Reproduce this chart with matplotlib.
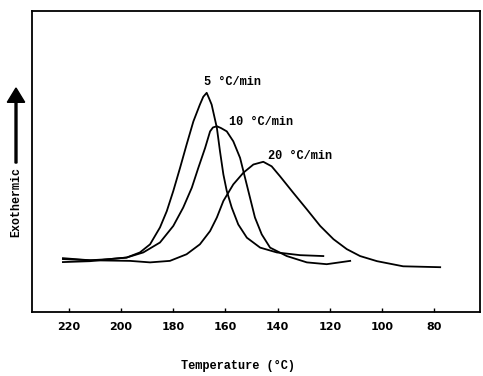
import matplotlib
matplotlib.use("Agg")
import matplotlib.pyplot as plt

# DSC exotherms at three cooling rates (temperature in degC, signal in arbitrary units)
temp_5 = [222.3, 211.9, 204.3, 197.9, 192.8, 188.9, 185.1, 182.5, 180.0, 177.4,
          174.9, 172.3, 169.8, 168.5, 167.2, 166.3, 165.3, 163.3, 162.1, 160.8,
          159.5, 157.6, 155.1, 151.8, 146.7, 140.3, 131.4, 122.5]
sig_5 = [16.6, 16.9, 17.6, 18.1, 19.8, 22.5, 28.1, 33.5, 40.2, 47.9,
         55.6, 63.3, 68.9, 71.5, 72.8, 71.0, 68.9, 61.2, 53.4, 45.7,
         40.2, 34.7, 29.1, 24.7, 21.4, 19.8, 18.9, 18.6]

temp_10 = [222.3, 211.9, 204.3, 197.9, 191.5, 185.1, 180.0, 176.2, 172.9, 170.4,
           167.8, 165.9, 164.8, 163.3, 161.7, 159.5, 157.0, 154.4, 152.5, 150.6,
           148.7, 146.1, 142.9, 136.5, 128.8, 121.2, 112.2]
sig_10 = [17.6, 17.2, 17.6, 18.1, 19.8, 23.1, 28.6, 34.7, 41.3, 47.9,
          54.5, 60.0, 61.3, 61.7, 61.1, 60.0, 56.7, 51.2, 44.6, 38.0,
          31.4, 25.8, 21.4, 18.6, 16.5, 15.9, 17.0]

temp_20 = [222.3, 211.9, 196.6, 188.9, 181.3, 174.9, 169.8, 165.9, 163.3, 160.8,
           157.0, 153.1, 149.3, 145.5, 142.3, 139.1, 134.0, 128.8, 123.7, 118.6,
           113.5, 108.4, 101.9, 91.9, 77.7]
sig_20 = [17.9, 17.2, 17.0, 16.5, 17.0, 19.2, 22.5, 26.9, 31.4, 36.9,
          42.4, 46.3, 49.0, 49.9, 48.4, 45.1, 39.6, 34.1, 28.6, 24.2,
          20.9, 18.6, 16.9, 15.2, 14.9]

rate_labels = ["5 °C/min", "10 °C/min", "20 °C/min"]
label_pos = [(168.2, 76.5), (158.6, 63.2), (143.7, 51.7)]

x_ticks = [220, 200, 180, 160, 140, 120, 100, 80]

label_font = "Liberation Mono"
tick_font = "DejaVu Sans"

fig = plt.figure(figsize=(4.83, 3.76), dpi=100)
fig.patch.set_facecolor("white")
ax = fig.add_axes([0.066, 0.170, 0.928, 0.801])

for t, s in [(temp_5, sig_5), (temp_10, sig_10), (temp_20, sig_20)]:
    ax.plot(t, s, color="black", linewidth=1.3, solid_joinstyle="round")

for txt, (x, y) in zip(rate_labels, label_pos):
    ax.text(x, y, txt, family=label_font, fontweight="bold", fontsize=8.6,
            ha="left", va="center")

ax.set_xlim(234.2, 62.4)
ax.set_ylim(0, 100)
ax.set_xticks(x_ticks)
ax.set_xticklabels([str(v) for v in x_ticks], family=tick_font,
                   fontweight="bold", fontsize=8)
ax.tick_params(axis="x", direction="in", length=3, width=1, pad=7)
ax.set_yticks([])
for sp in ax.spines.values():
    sp.set_linewidth(1.3)

fig.text(238 / 483, 1 - 366 / 376, "Temperature (°C)", family=label_font,
         fontweight="bold", fontsize=8.6, ha="center", va="center")

# "Exothermic" with upward arrow, outside the frame on the left
fig.text(16 / 483, 1 - 202 / 376, "Exothermic", family=label_font,
         fontweight="bold", fontsize=8.4, rotation=90, ha="center", va="center")
fig.add_artist(matplotlib.patches.FancyArrow(
    16 / 483, 1 - 163 / 376, 0, (163 - 88) / 376,
    width=0.004, head_width=0.036, head_length=0.038,
    length_includes_head=True, color="black", transform=fig.transFigure))

fig.savefig("out.png", dpi=100, facecolor="white")
